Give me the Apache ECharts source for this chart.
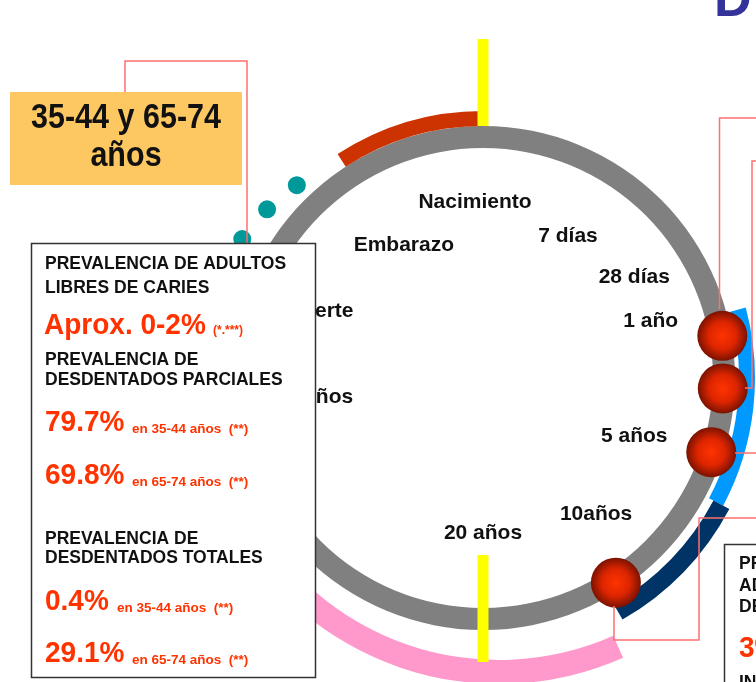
<!DOCTYPE html>
<html>
<head>
<meta charset="utf-8">
<script src="https://cdn.jsdelivr.net/npm/echarts@6/dist/echarts.min.js"></script>
<style>
  html, body { margin: 0; padding: 0; background: #fff; }
  #chart { width: 756px; height: 682px; }
</style>
</head>
<body>
<div id="chart"></div>
<script>
// life cycle milestones (angle in degrees on the circle, radius from centre)
const milestoneNames = ['Nacimiento', '7 días', '28 días', '1 año', '5 años', '10años', '20 años', 'Embarazo', 'Muerte', '70 años']
const milestoneAngle = [92.6, 59, 33.8, 18.7, -21, -50.3, -90, 120.7, 157.8, -173.6]
const milestoneRadius = [176, 165, 182, 177, 162, 177, 155, 155, 177, 170]

// exposure balls on the ring
const ballAngle = [10, -2.5, -18, -57]
const ballRadius = [243, 240, 240, 244]

// teal dots outside the ring
const dotAngle = [134, 142, 150]
const dotRadius = [268, 274, 278]

// coloured bands around the ring: [from, to] angles
const redBand = [123, 90]
const blueBand = [15, -28]
const navyBand = [-28, -60]
const pinkBand = [-66, -152]

// yellow markers: [inner, outer] radius at angle
const markerAngle = [90, -90]
const markerInner = [252, 177]
const markerOuter = [339, 284]

// info box text
const ageGroup = ['35-44 y 65-74', 'años']
const boxHeadings = ['PREVALENCIA DE ADULTOS', 'LIBRES DE CARIES', 'PREVALENCIA DE', 'DESDENTADOS PARCIALES', 'PREVALENCIA DE', 'DESDENTADOS TOTALES']
const cariesValue = 'Aprox. 0-2%'
const cariesNote = '(*.***)'
const statValues = ['79.7%', '69.8%', '0.4%', '29.1%']
const statNotes = ['en 35-44 años  (**)', 'en 65-74 años  (**)', 'en 35-44 años  (**)', 'en 65-74 años  (**)']
const sideHeadings = ['PREVALENCIA DE', 'ADOLESCENTES', 'DESDENTADOS']
const sideValue = '3%'
const sideNote = 'INDICE CAO'

const FONT = '"Liberation Sans", Arial, sans-serif'
const CENTER = [483, 378]
const RED = '#ff3300'
const INK = '#111'
const LINK = '#ff6f6f'

function band([from, to], inner, outer, color, center = CENTER) {
  const span = Math.abs(from - to)
  return {
    type: 'pie',
    center,
    radius: [inner, outer],
    startAngle: from,
    clockwise: from > to,
    silent: true,
    label: { show: false },
    labelLine: { show: false },
    emphasis: { disabled: true },
    data: [
      { value: span, itemStyle: { color } },
      { value: 360 - span, itemStyle: { color: 'rgba(0,0,0,0)' } }
    ]
  }
}

function text(x, y, str, font, fill = INK, align = 'left', scaleY = 1) {
  return {
    type: 'text',
    x,
    y,
    scaleY,
    z: 101,
    silent: true,
    style: { text: str, font: font + ' ' + FONT, fill, align, verticalAlign: 'middle' }
  }
}

function link(points) {
  return {
    type: 'polyline',
    z: 50,
    silent: true,
    shape: { points },
    style: { stroke: LINK, lineWidth: 1.5, fill: null }
  }
}

const chart = echarts.init(document.getElementById('chart'), null, { renderer: 'canvas' })

const graphic = [
  // title fragment at the top edge
  text(714, 2, 'D', 'bold 52px', '#333399'),

  // age group label
  { type: 'rect', z: 20, silent: true, shape: { x: 10, y: 92, width: 232, height: 93 }, style: { fill: '#fdc862' } },
  text(126, 119, ageGroup[0], 'bold 30.5px', INK, 'center', 1.12),
  text(126, 157, ageGroup[1], 'bold 30.5px', INK, 'center', 1.12),

  // connectors
  link([[125, 92], [125, 61], [247, 61], [247, 243]]),
  link([[760, 118], [719.5, 118], [719.5, 309]]),
  link([[760, 161], [752, 161], [752, 388], [745, 388]]),
  link([[735, 453], [760, 453]]),
  link([[614, 606], [614, 640], [699, 640], [699, 518], [760, 518]]),

  // info box
  { type: 'rect', z: 100, silent: true, shape: { x: 31.5, y: 243.5, width: 284, height: 434 }, style: { fill: '#fff', stroke: '#333', lineWidth: 1.5 } },
  text(45, 264, boxHeadings[0], 'bold 17.5px'),
  text(45, 288, boxHeadings[1], 'bold 17.5px'),
  text(44, 326, cariesValue, 'bold 28px', RED, 'left', 1.06),
  text(213, 331, cariesNote, 'bold 12px', RED),
  text(45, 360, boxHeadings[2], 'bold 17.5px'),
  text(45, 380, boxHeadings[3], 'bold 17.5px'),
  text(45, 539, boxHeadings[4], 'bold 17.5px'),
  text(45, 558, boxHeadings[5], 'bold 17.5px'),

  // side box (cut by the edge)
  { type: 'rect', z: 100, silent: true, shape: { x: 724.5, y: 544.5, width: 100, height: 200 }, style: { fill: '#fff', stroke: '#333', lineWidth: 1.5 } },
  text(739, 564, sideHeadings[0], 'bold 17.5px'),
  text(739, 586, sideHeadings[1], 'bold 17.5px'),
  text(739, 607, sideHeadings[2], 'bold 17.5px'),
  text(739, 649, sideValue, 'bold 28px', RED, 'left', 1.06),
  text(739, 683, sideNote, 'bold 17.5px')
]

const statY = [423, 476, 602, 654]
const noteX = [132, 132, 117, 132]
statValues.forEach((v, i) => {
  graphic.push(text(45, statY[i], v, 'bold 28px', RED, 'left', 1.06))
  graphic.push(text(noteX[i], statY[i] + 6, statNotes[i], 'bold 13.5px', RED))
})

chart.setOption({
  backgroundColor: '#fff',
  animation: false,
  polar: { center: CENTER, radius: 400 },
  radiusAxis: { type: 'value', min: 0, max: 400, show: false },
  angleAxis: { type: 'value', min: -180, max: 180, startAngle: 180, clockwise: false, show: false },
  series: [
    {
      type: 'pie',
      center: CENTER,
      radius: [230, 252],
      silent: true,
      label: { show: false },
      labelLine: { show: false },
      emphasis: { disabled: true },
      data: [{ value: 1, itemStyle: { color: '#808080' } }]
    },
    band(redBand, 252, 267, '#cc3300'),
    band(blueBand, 256, 272, '#0099ff'),
    band(navyBand, 261, 279, '#003366'),
    band(pinkBand, 281, 305, '#ff99cc', [499, 379]),
    ...markerAngle.map((a, i) => ({
      type: 'line',
      coordinateSystem: 'polar',
      z: 3,
      silent: true,
      clip: false,
      symbol: 'none',
      lineStyle: { color: '#ffff00', width: 11, cap: 'butt' },
      data: [[markerInner[i], a], [markerOuter[i], a]]
    })),
    {
      type: 'scatter',
      coordinateSystem: 'polar',
      z: 4,
      silent: true,
      symbolSize: 18,
      itemStyle: { color: '#009999', opacity: 1 },
      data: dotAngle.map((a, i) => [dotRadius[i], a])
    },
    {
      type: 'scatter',
      coordinateSystem: 'polar',
      z: 5,
      silent: true,
      symbolSize: 50,
      itemStyle: {
        opacity: 1,
        color: {
          type: 'radial', x: 0.5, y: 0.5, r: 0.5,
          colorStops: [
            { offset: 0, color: '#ff3300' },
            { offset: 0.55, color: '#dd2500' },
            { offset: 1, color: '#7a1200' }
          ]
        }
      },
      data: ballAngle.map((a, i) => [ballRadius[i], a])
    },
    {
      type: 'scatter',
      coordinateSystem: 'polar',
      z: 6,
      silent: true,
      symbolSize: 1,
      itemStyle: { color: 'rgba(0,0,0,0)', opacity: 1 },
      label: {
        show: true,
        position: 'inside',
        formatter: '{b}',
        fontFamily: FONT,
        fontSize: 21,
        fontWeight: 'bold',
        color: INK
      },
      data: milestoneNames.map((n, i) => ({ name: n, value: [milestoneRadius[i], milestoneAngle[i]] }))
    }
  ],
  graphic
})
</script>
</body>
</html>
